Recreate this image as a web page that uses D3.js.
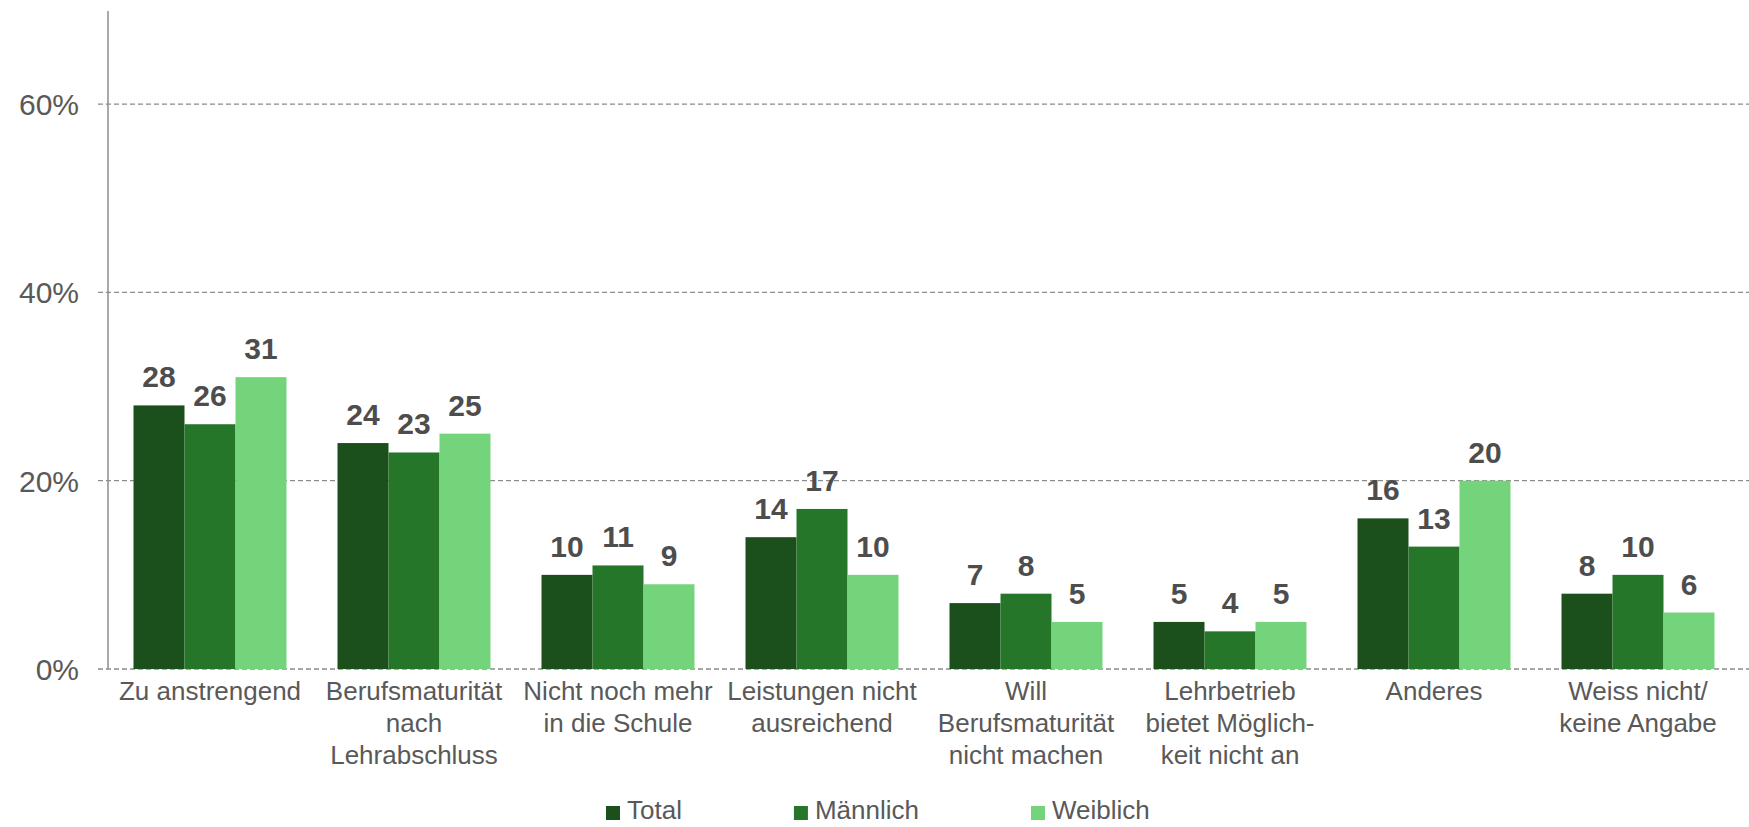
<!DOCTYPE html>
<html><head><meta charset="utf-8">
<script src="https://cdn.jsdelivr.net/npm/d3@7"></script>
<style>body{margin:0;background:#fff}svg{display:block}text{font-family:"Liberation Sans",Arial,Helvetica,sans-serif}</style>
</head><body><svg id="c" width="1749" height="827"></svg>
<script>
const categories = [
  ["Zu anstrengend"],
  ["Berufsmaturität","nach","Lehrabschluss"],
  ["Nicht noch mehr","in die Schule"],
  ["Leistungen nicht","ausreichend"],
  ["Will","Berufsmaturität","nicht machen"],
  ["Lehrbetrieb","bietet Möglich-","keit nicht an"],
  ["Anderes"],
  ["Weiss nicht/","keine Angabe"]
];
const seriesNames = ["Total","Männlich","Weiblich"];
const total    = [28,24,10,14,7,5,16,8];
const maennlich= [26,23,11,17,8,4,13,10];
const weiblich = [31,25,9,10,5,5,20,6];
const colors = ["#1b501d","#26762a","#74d47b"];
const yTicks = [0,20,40,60];

const svg = d3.select("#c");
const textCol = "#595959";
const x = d3.scaleBand().domain(d3.range(categories.length)).range([108,1740]);
const xs = d3.scaleBand().domain(seriesNames).range([x.bandwidth()*0.125, x.bandwidth()*0.875]);
const y = d3.scaleLinear().domain([0,70]).range([669,10]);
const series = [total, maennlich, weiblich];

// gridlines
svg.append("g").selectAll("line").data(yTicks).join("line")
  .attr("x1",98).attr("x2",1749)
  .attr("y1",d=>y(d)).attr("y2",d=>y(d))
  .attr("stroke","#8c8c8c").attr("stroke-width",1.3).attr("stroke-dasharray","5,3");

// y labels
svg.append("g").selectAll("text").data(yTicks).join("text")
  .attr("x",79).attr("y",d=>y(d)).attr("dy","0.36em")
  .attr("text-anchor","end").attr("font-size",30).attr("fill",textCol)
  .text(d=>d+"%");

// bars
const g = svg.append("g");
series.forEach((vals,si)=>{
  g.append("g").selectAll("rect").data(vals).join("rect")
    .attr("x",(d,i)=>x(i)+xs(seriesNames[si]))
    .attr("width",xs.bandwidth())
    .attr("y",d=>y(d)).attr("height",d=>y(0)-y(d))
    .attr("fill",colors[si]);
  g.append("g").selectAll("text").data(vals).join("text")
    .attr("x",(d,i)=>x(i)+xs(seriesNames[si])+xs.bandwidth()/2)
    .attr("y",d=>y(d)-18)
    .attr("text-anchor","middle").attr("font-size",30).attr("font-weight","bold")
    .attr("fill","#4d4d4d").text(d=>d);
});

// y axis line
svg.append("line").attr("x1",108).attr("x2",108).attr("y1",11).attr("y2",y(0))
  .attr("stroke","#8c8c8c").attr("stroke-width",1.5);

// category labels
const cl = svg.append("g").selectAll("text").data(categories).join("text")
  .attr("text-anchor","middle").attr("font-size",26).attr("fill",textCol);
cl.each(function(lines,i){
  d3.select(this).selectAll("tspan").data(lines).join("tspan")
    .attr("x",x(i)+x.bandwidth()/2).attr("y",(d,j)=>700+j*32).text(d=>d);
});

// legend
const leg = svg.append("g");
let lx = 606;
seriesNames.forEach((n,i)=>{
  leg.append("rect").attr("x",lx).attr("y",806).attr("width",14).attr("height",14).attr("fill",colors[i]);
  const t = leg.append("text").attr("x",lx+21).attr("y",819).attr("font-size",26).attr("fill",textCol).text(n);
  lx = lx + 21 + t.node().getComputedTextLength() + 112;
});
</script></body></html>
